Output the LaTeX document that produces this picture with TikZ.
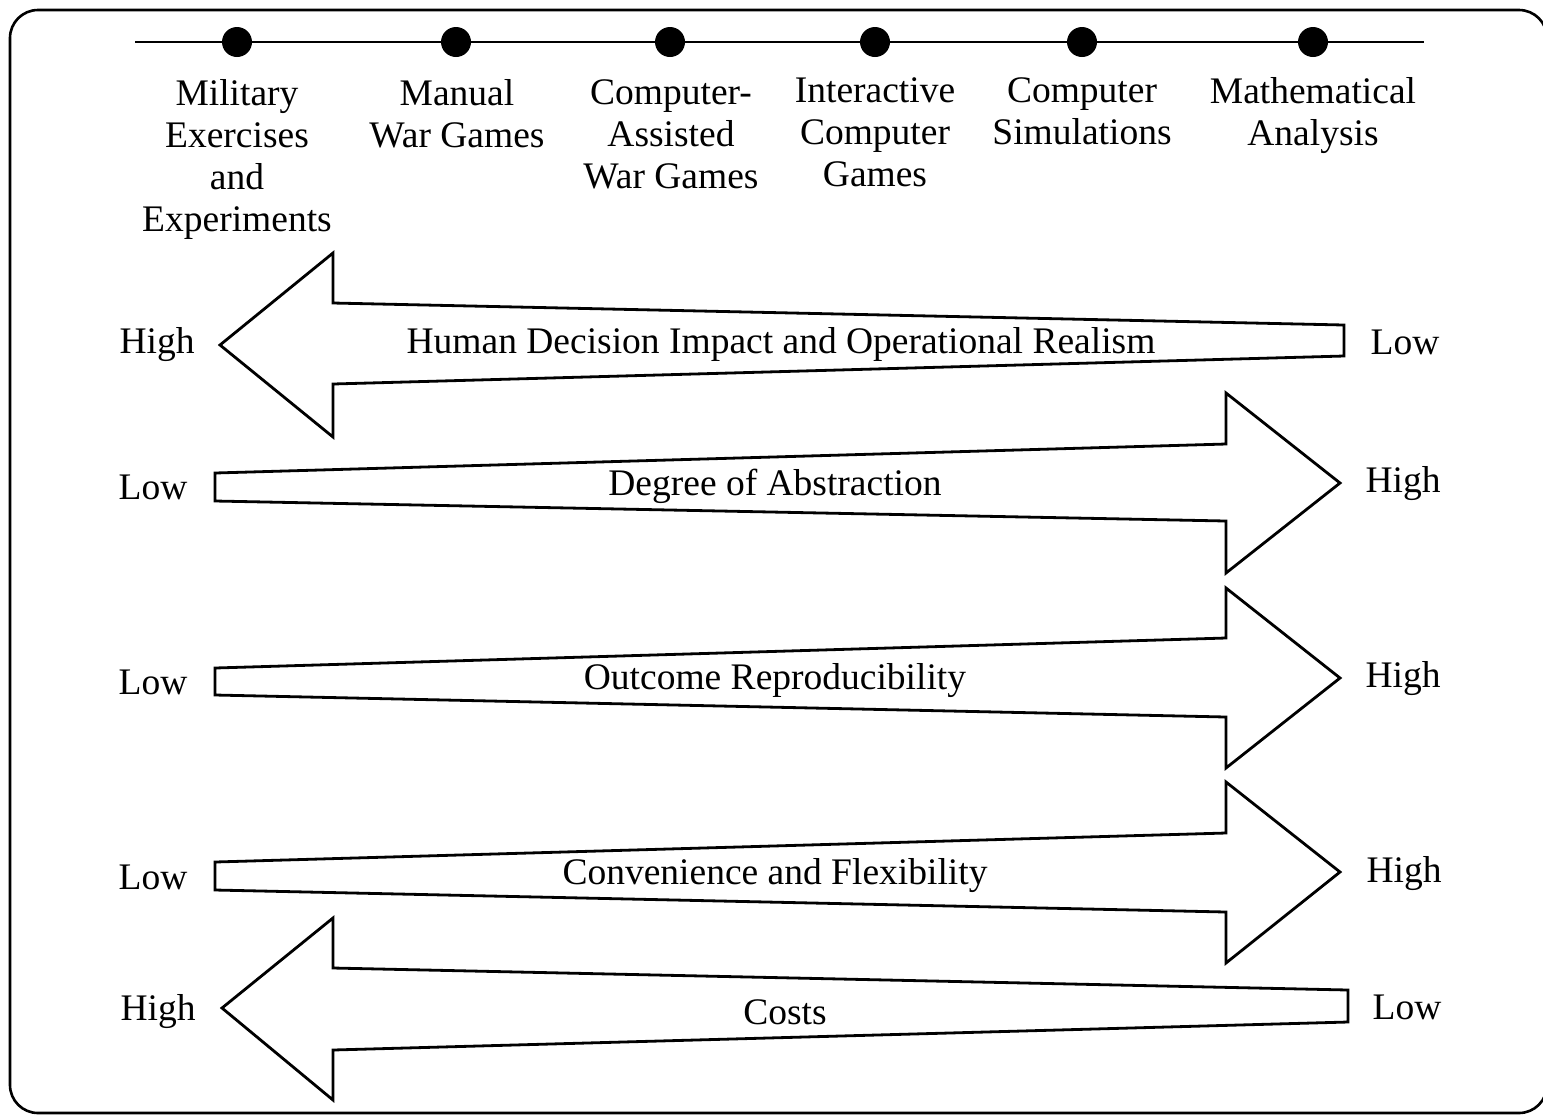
\documentclass[tikz,border=0pt]{standalone}
\usepackage{fontspec}
\setmainfont{Liberation Serif}
\begin{document}
\begin{tikzpicture}[x=0.5pt,y=-0.5pt,
  lbl/.style={font=\fontsize{18.75}{21}\selectfont, inner sep=0pt, align=center},
  bigarrow/.style={draw=black, line width=1.4pt, line join=miter, fill=white},
  dot/.style={circle, fill=black, minimum size=15pt, inner sep=0pt},
  frame/.style={draw=black, line width=1.3pt, rounded corners=14pt}]
\useasboundingbox (0,0) rectangle (1543,1116);
\draw[frame] (10,10) rectangle (1547,1113);
% timeline
\coordinate (tl0) at (135,42);
\coordinate (tl1) at (1424,42);
\draw[line width=1.3pt] (tl0) -- (tl1);
\foreach \n/\x in {d1/237,d2/456,d3/670,d4/875,d5/1082,d6/1313}
  \node[dot] (\n) at (\x,42) {};
\node[lbl, anchor=north] (c1) at (237,79) {Military\\Exercises\\and\\Experiments};
\node[lbl, anchor=north] (c2) at (457,79) {Manual\\War Games};
\node[lbl, anchor=north] (c3) at (671,79) {Computer-\\Assisted\\War Games};
\node[lbl, anchor=north] (c4) at (875,77) {Interactive\\Computer\\Games};
\node[lbl, anchor=north] (c5) at (1082,77) {Computer\\Simulations};
\node[lbl, anchor=north] (c6) at (1313,77) {Mathematical\\Analysis};
% arrow 1 (left)
\draw[bigarrow] (220,345) -- (333,253) -- (333,303) -- (1344,325) -- (1344,356) -- (333,384) -- (333,437) -- cycle;
\node[lbl] (t1) at (781,344) {Human Decision Impact and Operational Realism};
\node[lbl] (l1) at (157,345) {High};
\node[lbl] (r1) at (1405,342) {Low};
% arrow 2 (right)
\draw[bigarrow] (1340,483) -- (1226,393) -- (1226,444) -- (215,473) -- (215,501) -- (1226,521) -- (1226,573) -- cycle;
\node[lbl] (t2) at (775,486) {Degree of Abstraction};
\node[lbl] (l2) at (153,487) {Low};
\node[lbl] (r2) at (1403,484) {High};
% arrow 3 (right)
\draw[bigarrow] (1340,678) -- (1226,588) -- (1226,638) -- (215,668) -- (215,695) -- (1226,717) -- (1226,768) -- cycle;
\node[lbl] (t3) at (775,681) {Outcome Reproducibility};
\node[lbl] (l3) at (153,682) {Low};
\node[lbl] (r3) at (1403,679) {High};
% arrow 4 (right)
\draw[bigarrow] (1340,872) -- (1226,782) -- (1226,833) -- (215,862) -- (215,890) -- (1226,912) -- (1226,963) -- cycle;
\node[lbl] (t4) at (775,876) {Convenience and Flexibility};
\node[lbl] (l4) at (153,877) {Low};
\node[lbl] (r4) at (1404,874) {High};
% arrow 5 (left)
\draw[bigarrow] (222,1008) -- (333,918) -- (333,968) -- (1348,990) -- (1348,1022) -- (333,1050) -- (333,1100) -- cycle;
\node[lbl] (t5) at (785,1012) {Costs};
\node[lbl] (l5) at (158,1012) {High};
\node[lbl] (r5) at (1407,1007) {Low};
\end{tikzpicture}
\end{document}
